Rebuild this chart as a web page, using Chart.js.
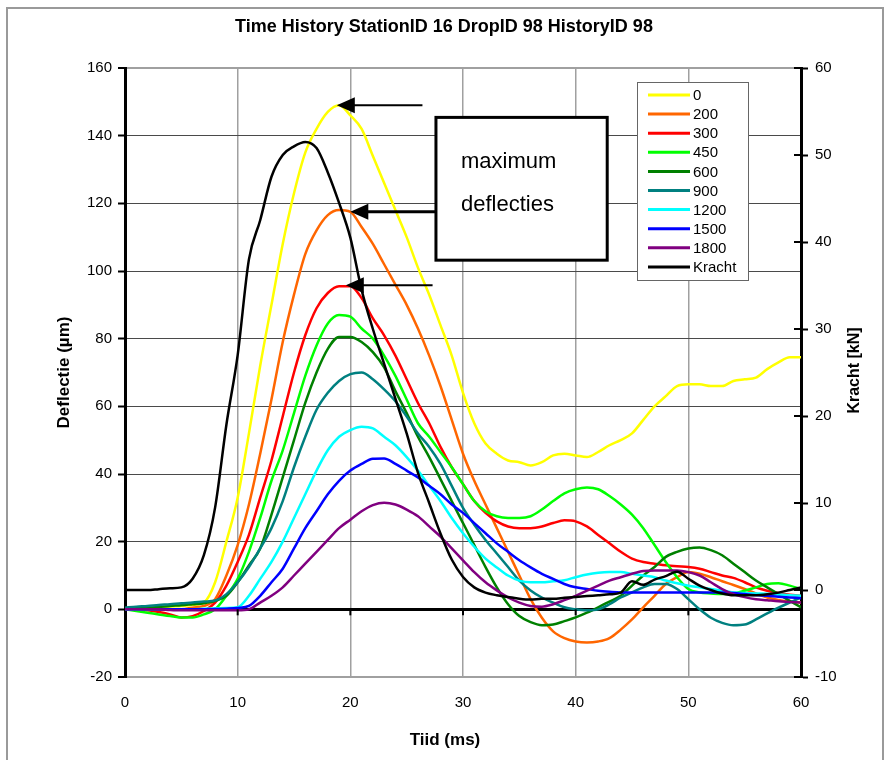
<!DOCTYPE html>
<html>
<head>
<meta charset="utf-8">
<script src="https://cdn.jsdelivr.net/npm/chart.js@4.4.1/dist/chart.umd.min.js"></script>
<style>
  html, body { margin: 0; padding: 0; background: #fff; }
</style>
</head>
<body>
<canvas id="myChart" width="888" height="760"></canvas>
<script>
// --- data (1 ms steps) ---
var tijd = [0,1,2,3,4,5,6,7,8,9,10,11,12,13,14,15,16,17,18,19,20,21,22,23,24,25,26,27,28,29,30,
            31,32,33,34,35,36,37,38,39,40,41,42,43,44,45,46,47,48,49,50,51,52,53,54,55,56,57,58,59,60];

var sensorNamen = ['0', '200', '300', '450', '600', '900', '1200', '1500', '1800'];

var d0 = [0,0,0.3,0.5,0.8,1,1.3,2,8,20, 33,52,72,90,108,123,135,142,147,149,
          146,142,134,126,118,110,101,93,84,75, 64,55,49,46,44,43.5,42.5,43.5,45.5,46,
          45.5,45,46.5,48.5,50,52,56,60,63,66, 66.5,66.5,66,66,67.5,68,68.5,71,73,74.5,74.5];
var d200 = [0,0,0,0,0,0,0.5,1,3,10, 19,31,46,62,79,93,105,112,116.5,118,
            117.5,113,108,102,96,90,83,75,66,56, 46,38,31,24,17,10,3,-2.5,-6.5,-8.5,
            -9.5,-9.8,-9.5,-8.5,-6,-3,0.6,4,7.5,9.5, 11,10.5,9.5,8.3,7.2,6,4.7,3.5,2.8,2.3,2];
var d300 = [0,0,-0.3,-0.8,-1.5,-2.4,-2,-0.5,2,7, 14,22,33,44,57,70,81,89,93.5,95.5,
            95.5,92,86,81,75,68,61,55,48,42, 37,32,28.5,26,24.5,24,24,24.5,25.5,26.3,
            26,24.5,22,19.5,17,15,14,13.5,13,12.7, 12.5,12,11,10,9.3,8,6.5,5.5,4.8,4.3,4];
var d450 = [0,-0.5,-1,-1.5,-2,-2.4,-2.4,-1.5,0,4, 9,17,27,38,47,58,69,78,84.5,87,
            86.5,83,80,75,69,62,55,51,46.5,42, 37,32,29,27.5,27,27,27.5,29.5,32,34.3,
            35.5,36,35.5,33.5,31,28,24,19,14,9.5, 6,5,4.7,4.5,4.7,5.5,6.5,7.5,7.7,7,6];
var d600 = [0,0.3,0.5,0.7,1,1.2,1.5,1.8,2.5,4, 8,13,18,28,39,50,61,70,77,80.5,
            80.5,79,76,71.5,64.5,58,51,45,38.5,32, 25.5,19,12.5,6.5,1.5,-2,-3.8,-4.7,-4.5,-3.5,
            -2.4,-1,0.6,2.3,4,7,10,12.5,15.5,17, 18,18.3,17.5,16,13.5,11,8.5,6.5,4.5,2.5,0.6];
var d900 = [0.5,0.8,1,1.3,1.5,1.8,2,2.3,2.6,4.5, 8,12.5,18,24,32,42,51,59,64,67.5,
            69.5,70,68,65,61.5,57,52,48,43,36.5, 30,25,20.5,16.5,12.5,8.5,5.6,3.5,2,0.6,
            0,-0.3,0,1.5,3.5,5,6.5,7.5,7.5,6, 3,0,-2.5,-4,-4.7,-4.5,-3,-1.2,0.5,2,3.5];
var d1200 = [0,0,0,0,0,0,0,0.2,0.3,0.4, 0.6,4,9,14,20,27,34,41,47,51,
             53,54,53.5,51,48.5,45,41,36.5,32,27, 22.5,18.5,15,12.4,10,8.5,8,8,8.3,8.6,
             9.5,10.3,10.8,11,11,10.5,10,9.5,8.5,7.7, 7,6.5,6,5.5,5,4.8,4.7,4.6,4.4,4.2,4];
var d1500 = [0,0,0,0,0,0,0,0,0.1,0.2, 0.4,1,4,8,12,18,24,29,34,38,
             41,43,44.5,44.6,43,41,39,36.5,34,31, 28.5,25.5,22.5,19.5,17,14.5,12.4,10.5,9,7.5,
             6.5,6,5.5,5.2,5,5,5,5,5,5, 5,5,5,5,4.8,4.5,4.2,4,3.7,3.5,3.3];
var d1800 = [0,0,0,0,-0.2,-0.3,-0.3,-0.3,-0.3,-0.3, -0.3,0,2,4,6.5,10,13.5,17,20.5,24,
             26.5,29,30.8,31.5,31,29.5,27.5,24.5,21.5,18, 14.5,11,8,5.6,3.5,2,1,0.8,1.5,2.7,
             4,5.5,7,8.5,9.5,10.5,11.3,11.5,11.5,11.5, 11,10,8,6,4.5,3.6,3,2.7,2.4,2.2,2];
// force in kN (right axis)
var kracht = [0,0,0,0.1,0.2,0.3,1.3,4,9.5,19, 27,38,42.5,47.5,50,51,51.5,50.8,48,44.5,
              40.5,34.5,30,26,22,18,13.5,10,6.5,3.5, 1.5,0.3,-0.3,-0.6,-0.8,-1,-1.1,-1,-1,-0.9,
              -0.8,-0.7,-0.6,-0.5,-0.3,1,0.6,1.2,1.6,2.1, 1.3,0.5,0,-0.4,-0.6,-0.6,-0.6,-0.5,-0.3,0,0.3];

var deflectieTicks = { min: -20, max: 160, step: 20 };
var krachtTicks = { min: -10, max: 60, step: 10 };
var tijdTicks = { min: 0, max: 60, step: 10 };

// annotation: text box and arrows pointing at the peaks (data coordinates)
var tekstBox = { t0: 27.6, t1: 42.8, v0: 103.2, v1: 145.4, regels: ['maximum', 'deflecties'] };
var pijlPunten = [[18.8, 149], [20, 117.5], [19.6, 95.8]];
var pijlStart = [26.4, 27.6, 27.3];

var kleuren = ['#FFFF00', '#FF6600', '#FF0000', '#00FF00', '#008000', '#008080', '#00FFFF', '#0000FF', '#800080'];

var FONT = "'Liberation Sans', Arial, sans-serif";
Chart.defaults.font.family = FONT;
Chart.defaults.color = '#000';

var deflecties = [d0, d200, d300, d450, d600, d900, d1200, d1500, d1800];
var datasets = deflecties.map(function(serie, i) {
  return {
    label: sensorNamen[i],
    data: tijd.map(function(t, j) { return { x: t, y: serie[j] }; }),
    borderColor: kleuren[i],
    backgroundColor: kleuren[i],
    borderWidth: 2.5,
    pointRadius: 0,
    cubicInterpolationMode: 'monotone',
    yAxisID: 'y',
    order: 20 - i
  };
});
datasets.push({
  label: 'Kracht',
  data: tijd.map(function(t, j) { return { x: t, y: kracht[j] }; }),
  borderColor: '#000',
  backgroundColor: '#000',
  borderWidth: 2.5,
  pointRadius: 0,
  cubicInterpolationMode: 'monotone',
  yAxisID: 'y1',
  order: 0
});

// achtergrond, kader, legenda, annotaties
var extraPlugin = {
  id: 'extra',
  beforeDraw: function(chart) {
    var ctx = chart.ctx;
    ctx.save();
    ctx.fillStyle = '#fff';
    ctx.fillRect(0, 0, chart.width, chart.height);
    ctx.strokeStyle = '#9a9a9a';
    ctx.lineWidth = 2;
    ctx.strokeRect(7, 8, 876, 800);
    ctx.restore();
  },
  afterDatasetsDraw: function(chart) {
    var ctx = chart.ctx;
    var xs = chart.scales.x, ys = chart.scales.y, ys1 = chart.scales.y1;
    var area = chart.chartArea;
    ctx.save();

    // tick marks on the zero line
    ctx.strokeStyle = '#000';
    ctx.lineWidth = 2;
    var y0 = ys.getPixelForValue(0);
    for (var t = tijdTicks.min + tijdTicks.step; t < tijdTicks.max; t += tijdTicks.step) {
      var px = xs.getPixelForValue(t);
      ctx.beginPath(); ctx.moveTo(px, y0); ctx.lineTo(px, y0 + 6); ctx.stroke();
    }
    // inner part of the right-axis ticks
    for (var k = krachtTicks.min; k <= krachtTicks.max; k += krachtTicks.step) {
      var py = ys1.getPixelForValue(k);
      ctx.beginPath(); ctx.moveTo(area.right - 7, py); ctx.lineTo(area.right, py); ctx.stroke();
    }

    // text box
    var bx0 = xs.getPixelForValue(tekstBox.t0), bx1 = xs.getPixelForValue(tekstBox.t1);
    var by0 = ys.getPixelForValue(tekstBox.v1), by1 = ys.getPixelForValue(tekstBox.v0);
    ctx.fillStyle = '#fff';
    ctx.fillRect(bx0, by0, bx1 - bx0, by1 - by0);
    ctx.lineWidth = 3;
    ctx.strokeRect(bx0, by0, bx1 - bx0, by1 - by0);
    ctx.fillStyle = '#000';
    ctx.font = '22px ' + FONT;
    ctx.textAlign = 'left';
    ctx.textBaseline = 'middle';
    ctx.fillText(tekstBox.regels[0], bx0 + 25, by0 + 45);
    ctx.fillText(tekstBox.regels[1], bx0 + 25, by0 + 88);

    // arrows
    pijlPunten.forEach(function(p, i) {
      var tipX = xs.getPixelForValue(p[0]);
      var tipY = ys.getPixelForValue(p[1]);
      var startX = xs.getPixelForValue(pijlStart[i]);
      ctx.lineWidth = i === 1 ? 3 : 2;
      ctx.beginPath(); ctx.moveTo(startX, tipY); ctx.lineTo(tipX + 14, tipY); ctx.stroke();
      ctx.beginPath();
      ctx.moveTo(tipX, tipY);
      ctx.lineTo(tipX + 18, tipY - 8);
      ctx.lineTo(tipX + 18, tipY + 8);
      ctx.closePath();
      ctx.fill();
    });

    // legend
    var lx = area.right - 164, ly = area.top + 14, lw = 111, lh = 198;
    ctx.fillStyle = '#fff';
    ctx.fillRect(lx, ly, lw, lh);
    ctx.strokeStyle = '#666';
    ctx.lineWidth = 1;
    ctx.strokeRect(lx + 0.5, ly + 0.5, lw, lh);
    ctx.font = '15px ' + FONT;
    chart.data.datasets.forEach(function(ds, i) {
      var ry = ly + 13 + i * 19.1;
      ctx.strokeStyle = ds.borderColor;
      ctx.lineWidth = 3;
      ctx.beginPath(); ctx.moveTo(lx + 11, ry); ctx.lineTo(lx + 53, ry); ctx.stroke();
      ctx.fillStyle = '#000';
      ctx.fillText(ds.label, lx + 56, ry + 1);
    });

    // x axis title (centred on the whole picture, like the main title)
    ctx.textAlign = 'center';
    ctx.font = 'bold 17px ' + FONT;
    ctx.fillText('Tiid (ms)', 445, 740);

    // right axis title, reading upwards
    ctx.translate(855, (area.top + area.bottom) / 2 - 2);
    ctx.rotate(-Math.PI / 2);
    ctx.font = 'bold 16px ' + FONT;
    ctx.fillText('Kracht [kN]', 0, 0);
    ctx.restore();
  }
};

var ctx = document.getElementById('myChart').getContext('2d');
var chart = new Chart(ctx, {
  type: 'line',
  data: { datasets: datasets },
  options: {
    responsive: false,
    animation: false,
    events: [],
    plugins: {
      legend: { display: false },
      tooltip: { enabled: false },
      title: {
        display: true,
        text: 'Time History StationID 16 DropID 98 HistoryID 98',
        font: { size: 18, weight: 'bold' },
        color: '#000',
        padding: { top: 16, bottom: 30.4 }
      }
    },
    scales: {
      x: {
        type: 'linear',
        min: tijdTicks.min,
        max: tijdTicks.max,
        ticks: { stepSize: tijdTicks.step, padding: 17, font: { size: 15 } },
        grid: { color: '#a0a0a0', lineWidth: 1.5, drawTicks: false },
        border: { display: false },
        afterFit: function(s) { s.height = 83; }
      },
      y: {
        position: 'left',
        min: deflectieTicks.min,
        max: deflectieTicks.max,
        ticks: { stepSize: deflectieTicks.step, padding: 6, font: { size: 15 } },
        grid: {
          color: function(c) {
            if (c.tick.value === 0) return '#000';
            if (c.tick.value === deflectieTicks.min || c.tick.value === deflectieTicks.max) return '#a0a0a0';
            return '#4a4a4a';
          },
          lineWidth: function(c) {
            if (c.tick.value === 0) return 3;
            if (c.tick.value === deflectieTicks.min || c.tick.value === deflectieTicks.max) return 2;
            return 1;
          },
          tickColor: '#000',
          tickLength: 7,
          tickWidth: 2
        },
        border: { color: '#000', width: 3 },
        title: { display: true, text: 'Deflectie (\u00b5m)', font: { size: 17, weight: 'bold' }, padding: { top: 54, bottom: 0 } },
        afterFit: function(s) { s.width = 125; }
      },
      y1: {
        position: 'right',
        min: krachtTicks.min,
        max: krachtTicks.max,
        ticks: { stepSize: krachtTicks.step, padding: 7, font: { size: 15 } },
        grid: { drawOnChartArea: false, tickColor: '#000', tickLength: 7, tickWidth: 2 },
        border: { color: '#000', width: 3 },
        afterFit: function(s) { s.width = 87; }
      }
    }
  },
  plugins: [extraPlugin]
});
</script>
</body>
</html>
